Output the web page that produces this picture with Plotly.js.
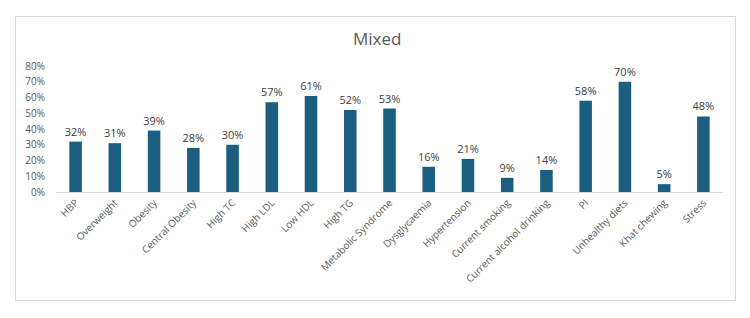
<!DOCTYPE html>
<html>
<head>
<meta charset="utf-8">
<script src="https://cdn.plot.ly/plotly-3.0.1.min.js"></script>
<style>
  html, body { margin: 0; padding: 0; background: #fff; }
  #wrap { position: relative; width: 750px; height: 318px; }
  #chart { width: 750px; height: 318px; }
  #frame { position: absolute; left: 15px; top: 16px; width: 721px; height: 285px;
           border: 1px solid #d9d9d9; pointer-events: none; box-sizing: border-box; }
</style>
</head>
<body>
<div id="wrap">
  <div id="chart"></div>
  <div id="frame"></div>
</div>
<script>
const categories = ["HBP", "Overweight", "Obesity", "Central Obesity", "High TC", "High LDL",
  "Low HDL", "High TG", "Metabolic Syndrome", "Dysglycaemia", "Hypertension",
  "Current smoking", "Current alcohol drinking", "PI", "Unhealthy diets", "Khat chewing", "Stress"];
const values = [0.32, 0.31, 0.39, 0.28, 0.30, 0.57, 0.61, 0.52, 0.53, 0.16, 0.21, 0.09, 0.14, 0.58, 0.70, 0.05, 0.48];
const yTickVals = [0, 0.1, 0.2, 0.3, 0.4, 0.5, 0.6, 0.7, 0.8];
const yTickText = ["0%", "10%", "20%", "30%", "40%", "50%", "60%", "70%", "80%"];
const chartTitle = "Mixed";

const trace = {
  type: "bar",
  x: categories,
  y: values,
  marker: { color: "#1b5e80" },
  text: values.map(v => Math.round(v * 100) + "%"),
  textposition: "outside",
  constraintext: "none",
  textfont: { family: "Open Sans, sans-serif", size: 11, color: "#404040" },
  cliponaxis: false,
  hoverinfo: "none"
};

const layout = {
  width: 750, height: 318,
  margin: { l: 56, r: 27, t: 66, b: 126 },
  paper_bgcolor: "#fff", plot_bgcolor: "#fff",
  bargap: 0.68,
  showlegend: false,
  title: {
    text: chartTitle,
    font: { family: "Open Sans, sans-serif", size: 17, color: "#595959" },
    x: 0.503, xanchor: "center",
    y: 1 - 39 / 318, yref: "container", yanchor: "middle"
  },
  xaxis: {
    type: "category",
    tickangle: -45,
    showline: true, linecolor: "#d9d9d9", linewidth: 1,
    showgrid: false, ticks: "",
    tickfont: { family: "Open Sans, sans-serif", size: 10, color: "#595959" }
  },
  yaxis: {
    range: [0, 0.8],
    tickvals: yTickVals, ticktext: yTickText,
    showgrid: false, zeroline: false, showline: false, ticks: "",
    ticklen: 0, ticklabelstandoff: 10,
    tickfont: { family: "Open Sans, sans-serif", size: 10, color: "#595959" }
  }
};

Plotly.newPlot("chart", [trace], layout, { staticPlot: true, displayModeBar: false });
</script>
</body>
</html>
